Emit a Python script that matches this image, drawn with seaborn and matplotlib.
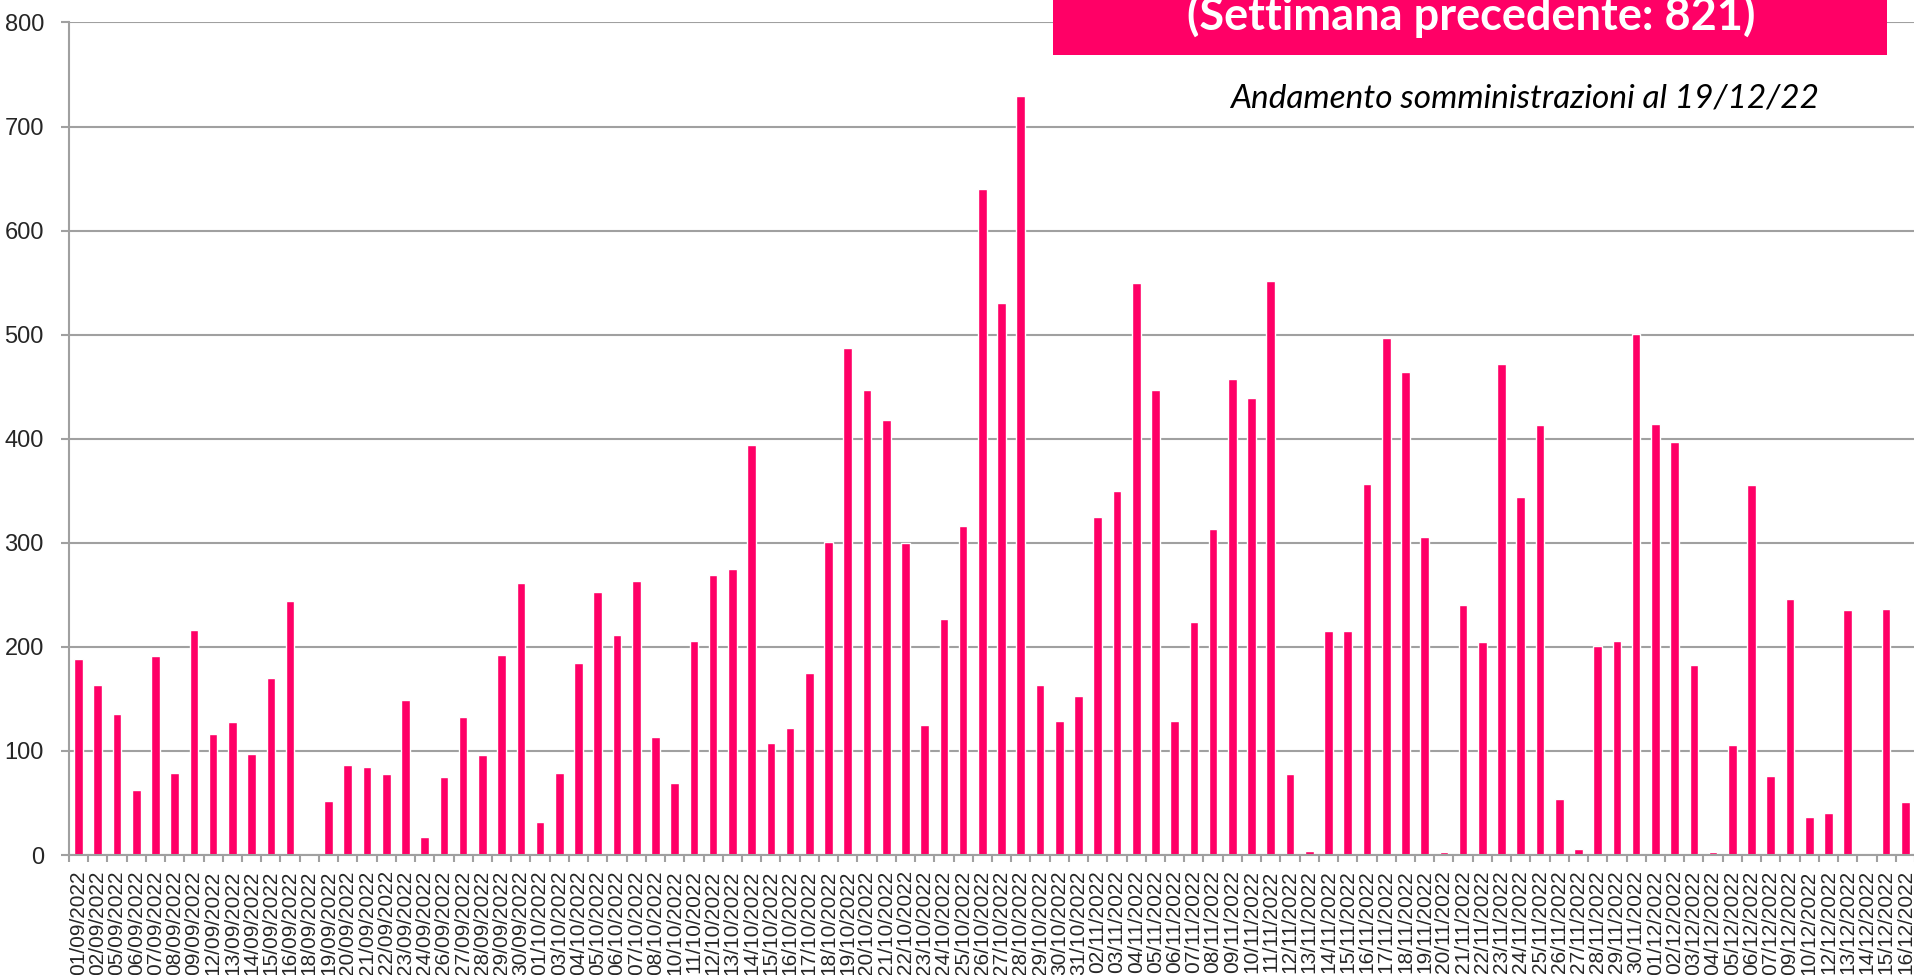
import matplotlib
matplotlib.use("Agg")
import matplotlib.pyplot as plt
from matplotlib.patches import Rectangle
from matplotlib.ticker import MultipleLocator, FixedLocator
import seaborn as sns

# somministrazioni giornaliere
giorni = [
    "01/09/2022", "02/09/2022", "05/09/2022", "06/09/2022", "07/09/2022", "08/09/2022",
    "09/09/2022", "12/09/2022", "13/09/2022", "14/09/2022", "15/09/2022", "16/09/2022",
    "18/09/2022", "19/09/2022", "20/09/2022", "21/09/2022", "22/09/2022", "23/09/2022",
    "24/09/2022", "26/09/2022", "27/09/2022", "28/09/2022", "29/09/2022", "30/09/2022",
    "01/10/2022", "03/10/2022", "04/10/2022", "05/10/2022", "06/10/2022", "07/10/2022",
    "08/10/2022", "10/10/2022", "11/10/2022", "12/10/2022", "13/10/2022", "14/10/2022",
    "15/10/2022", "16/10/2022", "17/10/2022", "18/10/2022", "19/10/2022", "20/10/2022",
    "21/10/2022", "22/10/2022", "23/10/2022", "24/10/2022", "25/10/2022", "26/10/2022",
    "27/10/2022", "28/10/2022", "29/10/2022", "30/10/2022", "31/10/2022",
    "02/11/2022", "03/11/2022", "04/11/2022", "05/11/2022", "06/11/2022", "07/11/2022",
    "08/11/2022", "09/11/2022", "10/11/2022", "11/11/2022", "12/11/2022", "13/11/2022",
    "14/11/2022", "15/11/2022", "16/11/2022", "17/11/2022", "18/11/2022", "19/11/2022",
    "20/11/2022", "21/11/2022", "22/11/2022", "23/11/2022", "24/11/2022", "25/11/2022",
    "26/11/2022", "27/11/2022", "28/11/2022", "29/11/2022", "30/11/2022",
    "01/12/2022", "02/12/2022", "03/12/2022", "04/12/2022", "05/12/2022", "06/12/2022",
    "07/12/2022", "09/12/2022", "10/12/2022", "12/12/2022", "13/12/2022", "14/12/2022",
    "15/12/2022", "16/12/2022",
]
somministrazioni = [
    188, 163, 136, 63, 191, 79, 216, 116, 128, 97, 170, 244,
    1, 52, 87, 85, 78, 149, 17, 75, 133, 96, 192, 261,
    32, 79, 185, 253, 211, 263, 113, 69, 206, 269, 275, 394,
    108, 122, 175, 301, 487, 447, 418, 300, 125, 227, 316, 640,
    530, 729, 163, 129, 153,
    325, 350, 550, 447, 129, 224, 313, 457, 439, 552, 78, 4,
    215, 215, 357, 497, 464, 306, 3, 240, 205, 472, 344, 413,
    54, 6, 201, 206, 501,
    414, 397, 183, 3, 106, 356, 76, 246, 37, 40, 235, 1,
    236, 51,
]

titolo = "(Settimana precedente: 821)"
sottotitolo = "Andamento somministrazioni al 19/12/22"

rosa = "#FF0066"
grigio = "#a0a0a0"

sns.set_style("white")

fig = plt.figure(figsize=(19.15, 9.75), dpi=100)
ax = fig.add_axes([0.036, 0.123, 0.964, 0.854])

sns.barplot(x=giorni, y=somministrazioni, color=rosa, saturation=1,
            width=0.45, ax=ax)

ax.set_xlim(-0.5, len(giorni) - 0.5)
ax.set_ylim(0, 800)
ax.yaxis.set_major_locator(MultipleLocator(100))
ax.yaxis.grid(True, color=grigio, lw=1.5)
ax.set_axisbelow(True)

for s in ["top", "right"]:
    ax.spines[s].set_visible(False)
for s in ["left", "bottom"]:
    ax.spines[s].set_color(grigio)
    ax.spines[s].set_linewidth(1.5)

ax.xaxis.set_minor_locator(FixedLocator([i - 0.5 for i in range(len(giorni) + 1)]))
ax.tick_params(axis="x", which="major", length=0, pad=11, rotation=90,
               labelsize=15)
ax.tick_params(axis="x", which="minor", length=5, width=1.5, color=grigio,
               bottom=True)
ax.tick_params(axis="y", length=6, width=1.5, color=grigio, pad=12,
               labelsize=17, left=True)
for lab in ax.get_xticklabels() + ax.get_yticklabels():
    lab.set_fontfamily(["Liberation Sans", "DejaVu Sans"])
ax.set_xlabel("")
ax.set_ylabel("")

# riquadro titolo (tagliato in alto)
fig.patches.append(Rectangle((0.55, 0.9436), 0.4355, 0.1, transform=fig.transFigure,
                             facecolor=rosa, edgecolor="none", zorder=5))
fig.text(0.768, 0.969, titolo, ha="center", va="baseline", color="white",
         fontsize=32.5, fontweight="bold", family=["Lato", "DejaVu Sans"], zorder=6)
fig.text(0.796, 0.890, sottotitolo, ha="center", va="baseline", color="black",
         fontsize=24, style="italic", family=["Lato", "DejaVu Sans"])

fig.savefig("out.png", dpi=100)
